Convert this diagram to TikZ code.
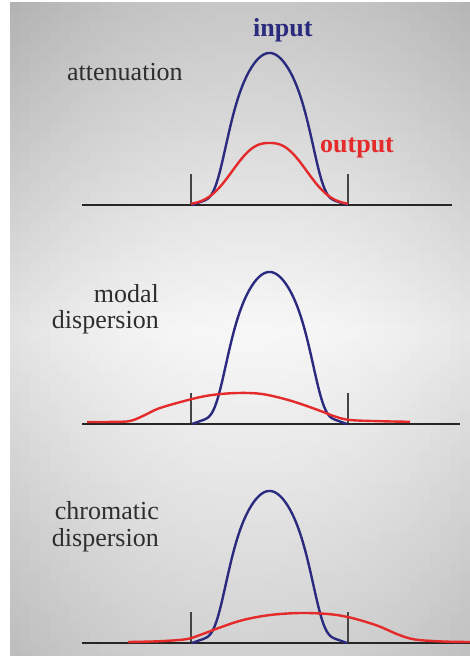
\documentclass[tikz,border=0pt]{standalone}
\usepackage{fontspec}
\setmainfont{Liberation Serif}
\newfontfamily\tms{Liberation Serif}
\definecolor{pulseblue}{HTML}{2A2A7E}
\definecolor{pulsered}{HTML}{E42A2A}
\definecolor{tickgray}{HTML}{444444}
\tikzset{
  declare function={gm(\t)=(\t/56.4)^2+(\t/50.6)^6; blu(\t)=152*(0.96*exp(-gm(\t))+0.04*(1-(\t/78)^8)^1.5);},
  bluecurve/.style={draw=pulseblue,line width=2.4bp,line join=round},
  redcurve/.style={draw=pulsered,line width=2.4bp,line join=round},
  axisline/.style={draw=black!85,line width=2.2bp},
  tickline/.style={draw=tickgray,line width=1.3bp},
  lbl/.style={inner sep=0pt,font=\tms\fontsize{26bp}{26bp}\selectfont,text=black!82},
  boldlbl/.style={inner sep=0pt,font=\tms\fontsize{26bp}{26bp}\selectfont\bfseries}
}
\newcommand\bluepulse{%
  \draw[bluecurve] plot[domain=191.6:347.4,samples=157,smooth] (\x,{-blu(abs(\x-269.5))});}
\newcommand\tickmarks{%
  \draw[tickline] (191,0) -- (191,-31);
  \draw[tickline] (348,0) -- (348,-31);}
\begin{document}
\begin{tikzpicture}[x=1bp,y=-1bp]
\useasboundingbox (0,0) rectangle (470,656);
\fill[white] (0,0) rectangle (470,656);
% background gradient drawn as a grid of cells
\foreach \cy in {0,...,65}{
  \pgfmathsetmacro{\yc}{\cy*10+5}
  \pgfmathsetmacro{\gv}{\yc<330 ? 3+19*((330-\yc)/328) : 3+15*((\yc-330)/326)}
  \foreach \cx in {0,...,45}{
    \pgfmathsetmacro{\xc}{\cx*10+15}
    \pgfmathsetmacro{\g}{\gv+7*((\xc-250)/220)^2}
    \fill[black!\g] ({10+\cx*10},{2+\cy*10}) rectangle ({10+\cx*10+10.6},{2+\cy*10+10.6});
  }
}
\fill[white] (470,0) rectangle (480,660);
\fill[white] (0,656) rectangle (480,666);
% panel 1: attenuation
\begin{scope}[shift={(0,205)}]
  \tickmarks
  \draw[axisline] (82,0) -- (452,0);
  \bluepulse
  \draw[redcurve] plot[domain=191:348,samples=120,smooth] (\x,{-62*exp(-((abs(\x-269.5)/45.6)^2.5))});
\end{scope}
\node[lbl,anchor=base west] (att) at (67,81) {attenuation};
\node[boldlbl,anchor=base west,text=pulseblue] (inp) at (253,37) {input};
\node[boldlbl,anchor=base west,text=pulsered] (outp) at (320,152) {output};
% panel 2: modal dispersion
\begin{scope}[shift={(0,424)}]
  \tickmarks
  \draw[axisline] (82,0) -- (460,0);
  \bluepulse
  \draw[redcurve] plot[smooth,tension=0.55] coordinates {(87,-2) (120,-2.2) (132,-3.5) (145,-9) (160,-16) (192,-25) (212,-29) (237,-31) (262,-30) (290,-23.5) (318,-14) (335,-7.5) (350,-4) (380,-2.8) (410,-2.2)};
\end{scope}
\node[lbl,anchor=base east] (modal) at (159,302) {modal};
\node[lbl,anchor=base east] (disp1) at (159,328) {dispersion};
% panel 3: chromatic dispersion
\begin{scope}[shift={(0,643)}]
  \tickmarks
  \draw[axisline] (82,0) -- (470,0);
  \bluepulse
  \draw[redcurve] plot[smooth,tension=0.55] coordinates {(128,-1) (160,-1.8) (186,-3.8) (200,-8) (220,-15.5) (243,-23) (270,-28) (300,-30) (328,-29) (350,-25.5) (377,-17.5) (398,-8.5) (415,-3.5) (443,-1.5) (470,-1)};
\end{scope}
\node[lbl,anchor=base east] (chrom) at (159,519) {chromatic};
\node[lbl,anchor=base east] (disp2) at (159,546) {dispersion};
\end{tikzpicture}
\end{document}
